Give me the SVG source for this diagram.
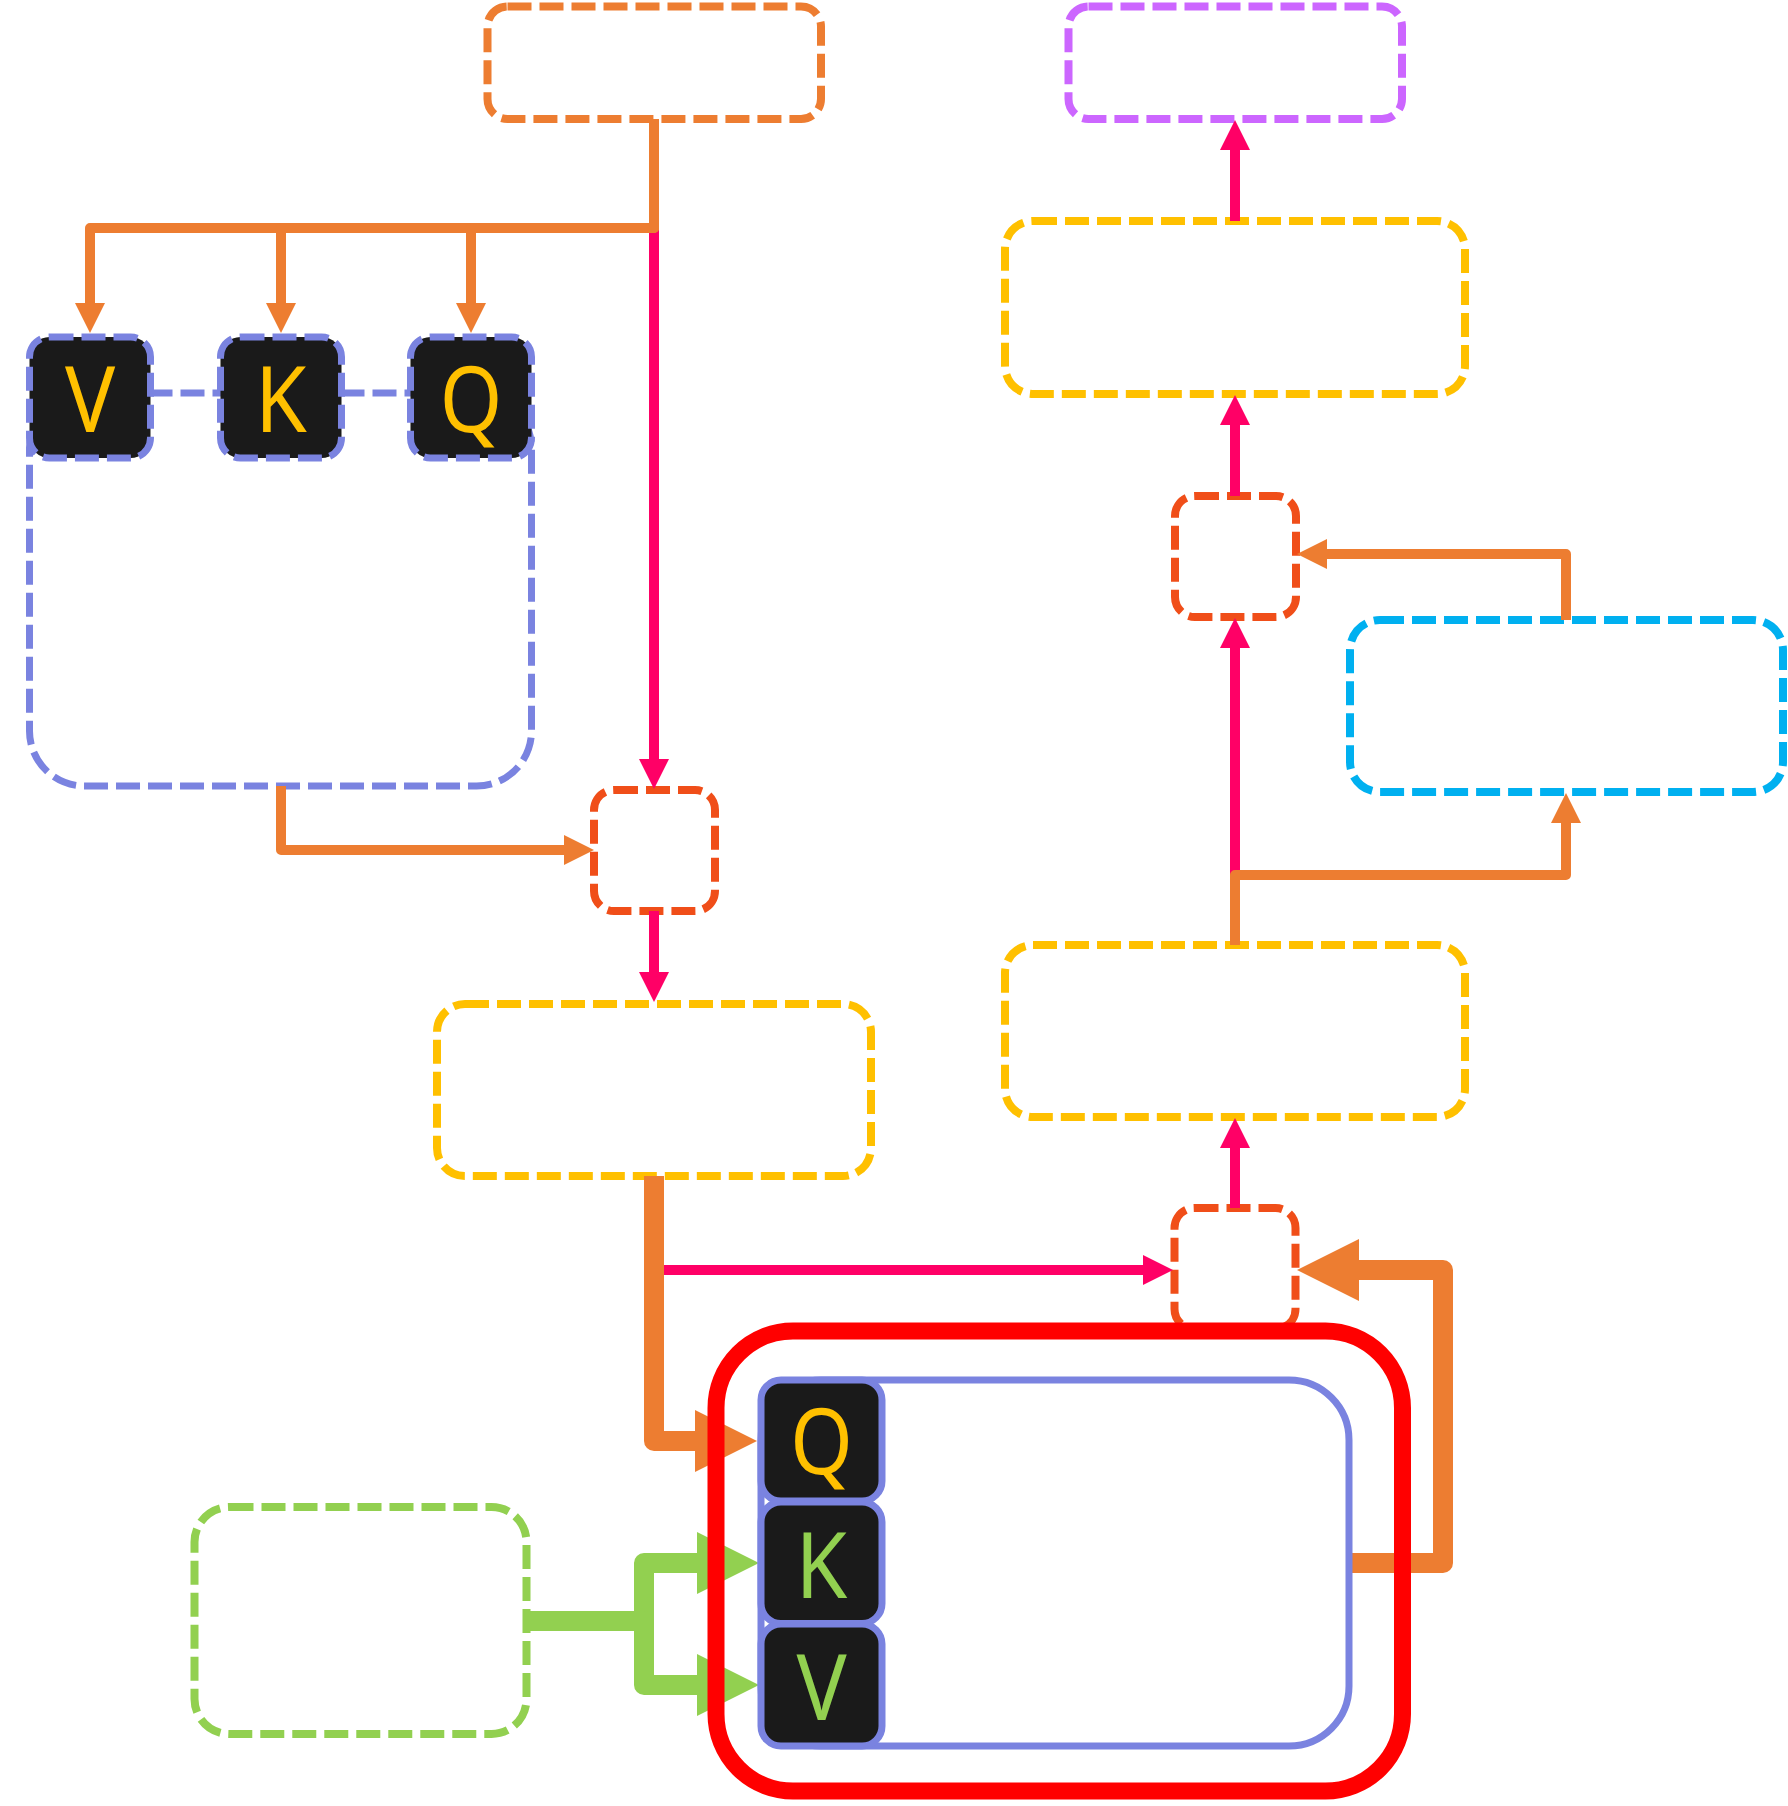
<svg xmlns="http://www.w3.org/2000/svg" width="1788" height="1806" viewBox="0 0 1788 1806">
<style>
.dash{fill:#ffffff;stroke-width:8;stroke-dasharray:24 8}
.o{stroke:#ed7d31}
.y{stroke:#ffc000}
.p{stroke:#cc66ff}
.b{stroke:#00b0f0}
.r{stroke:#f04e19}
.g{stroke:#92d050}
.vb{fill:#ffffff;stroke:#7a83e0;stroke-width:7;stroke-dasharray:24 8}
.key{fill:#1a1a1a;stroke:#7a83e0;stroke-width:7}
.keyd{fill:#1a1a1a;stroke:#7a83e0;stroke-width:7;stroke-dasharray:24 8}
.lbl{font-family:"Noto Sans","Open Sans","DejaVu Sans",sans-serif;font-size:91px;text-anchor:middle}
.ly{fill:#ffc000}
.lg{fill:#92d050}
.c{fill:none;stroke-linejoin:round;stroke-linecap:butt}
.thin{stroke-width:10}
.thick{stroke-width:20}
.co{stroke:#ed7d31}
.cp{stroke:#ff0066}
.cg{stroke:#92d050}
</style>
<defs>
<marker id="ao" viewBox="0 0 10 10" refX="0" refY="5" markerWidth="3" markerHeight="3" markerUnits="strokeWidth" orient="auto"><path d="M0,0 L10,5 L0,10 z" fill="#ed7d31"/></marker>
<marker id="ap" viewBox="0 0 10 10" refX="0" refY="5" markerWidth="3" markerHeight="3" markerUnits="strokeWidth" orient="auto"><path d="M0,0 L10,5 L0,10 z" fill="#ff0066"/></marker>
<marker id="aoT" viewBox="0 0 10 10" refX="0" refY="5" markerWidth="3.1" markerHeight="3.1" markerUnits="strokeWidth" orient="auto"><path d="M0,0 L10,5 L0,10 z" fill="#ed7d31"/></marker>
<marker id="agT" viewBox="0 0 10 10" refX="0" refY="5" markerWidth="3.1" markerHeight="3.1" markerUnits="strokeWidth" orient="auto"><path d="M0,0 L10,5 L0,10 z" fill="#92d050"/></marker>
</defs>
<rect width="1788" height="1806" fill="#ffffff"/>

<g id="nodes">
<g id="top-orange"><rect class="dash o" x="487.5" y="6.5" width="333.5" height="112.5" rx="20"/></g>
<g id="top-purple"><rect class="dash p" x="1068.5" y="6.5" width="333.5" height="112.5" rx="20"/></g>
<g id="yellow-1"><rect class="dash y" x="1005" y="221" width="460" height="173" rx="28"/></g>
<g id="small-top"><rect class="dash r" x="1175" y="496" width="121" height="121" rx="20"/></g>
<g id="blue-box"><rect class="dash b" x="1350" y="620" width="433" height="172" rx="30"/></g>
<g id="yellow-2"><rect class="dash y" x="1005" y="945" width="460" height="172" rx="28"/></g>
<g id="small-bottom"><rect class="dash r" x="1174.5" y="1208" width="121" height="121" rx="20"/></g>
<g id="attn-group">
<rect class="vb" x="29.5" y="393" width="502" height="393" rx="55"/>
<g id="v-top"><rect class="keyd" x="29.5" y="337" width="121" height="121" rx="20"/><text class="lbl ly" transform="translate(90,432) scale(0.92,1)">V</text></g>
<g id="k-top"><rect class="keyd" x="220.5" y="337" width="121" height="121" rx="20"/><text class="lbl ly" transform="translate(281,432) scale(0.92,1)">K</text></g>
<g id="q-top"><rect class="keyd" x="410.5" y="337" width="121" height="121" rx="20"/><text class="lbl ly" transform="translate(471,432) scale(0.88,1)">Q</text></g>
</g>
<g id="small-mid"><rect class="dash r" x="594" y="790" width="121" height="121" rx="20"/></g>
<g id="yellow-3"><rect class="dash y" x="437" y="1004" width="434" height="172" rx="28"/></g>
<g id="green-box"><rect class="dash g" x="194.5" y="1507" width="332" height="227" rx="35"/></g>
</g>

<g id="connectors">
<path class="c thin cp" d="M654,119 V759" marker-end="url(#ap)"/>
<path class="c thin co" d="M654,119 V228 H90 V303" marker-end="url(#ao)"/>
<path class="c thin co" d="M654,119 V228 H281 V303" marker-end="url(#ao)"/>
<path class="c thin co" d="M654,119 V228 H471 V303" marker-end="url(#ao)"/>
<path class="c thin co" d="M281,786 V850 H564" marker-end="url(#ao)"/>
<path class="c thin cp" d="M654,911 V972" marker-end="url(#ap)"/>
<path class="c thin cp" d="M654,1176 V1270 H1143" marker-end="url(#ap)"/>
<path class="c thick co" d="M654,1176 V1441 H695" marker-end="url(#aoT)"/>
<path class="c thin cp" d="M1235,1208 V1148" marker-end="url(#ap)"/>
<path class="c thin cp" d="M1235,945 V648" marker-end="url(#ap)"/>
<path class="c thin co" d="M1235,945 V875 H1566 V823" marker-end="url(#ao)"/>
<path class="c thin co" d="M1566,620 V554 H1327" marker-end="url(#ao)"/>
<path class="c thin cp" d="M1235,496 V425" marker-end="url(#ap)"/>
<path class="c thin cp" d="M1235,221 V150" marker-end="url(#ap)"/>
<path class="c thick co" d="M1349,1563 H1443 V1270 H1359" marker-end="url(#aoT)"/>
<path class="c thick cg" d="M526,1621 H644 V1563 H697" marker-end="url(#agT)"/>
<path class="c thick cg" d="M526,1621 H644 V1685 H697" marker-end="url(#agT)"/>
</g>

<g id="decoder">
<rect x="716" y="1331" width="686.5" height="460" rx="77" fill="none" stroke="#ff0000" stroke-width="17"/>
<rect x="761" y="1380" width="588" height="366" rx="60" fill="#ffffff" stroke="#7a83e0" stroke-width="7"/>
<g id="q-in"><rect class="key" x="761" y="1380" width="121" height="121" rx="20"/><text class="lbl ly" transform="translate(821.5,1474) scale(0.88,1)">Q</text></g>
<g id="k-in"><rect class="key" x="761" y="1502" width="121" height="121.5" rx="20"/><text class="lbl lg" transform="translate(821.5,1598) scale(0.92,1)">K</text></g>
<g id="v-in"><rect class="key" x="761" y="1624" width="121" height="122" rx="20"/><text class="lbl lg" transform="translate(821.5,1720) scale(0.92,1)">V</text></g>
</g>
</svg>
